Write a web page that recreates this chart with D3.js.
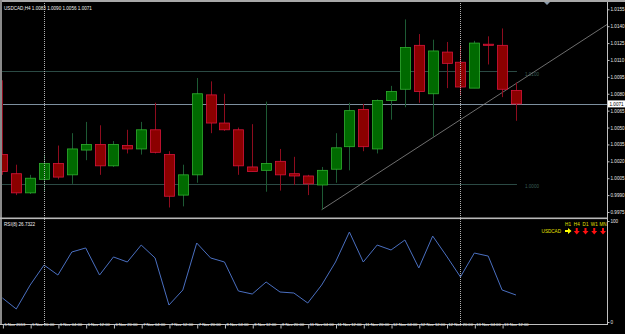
<!DOCTYPE html>
<html>
<head>
<meta charset="utf-8">
<script src="https://cdn.jsdelivr.net/npm/d3@7"></script>
<style>
  html, body { margin: 0; padding: 0; background: #000; }
  svg { display: block; }
  text { font-family: "Liberation Sans", Arial, sans-serif; }
</style>
</head>
<body>
<svg id="chart" width="625" height="334"></svg>
<script>
// ----------------------
// data
// ----------------------
const symbol = "USDCAD,H4";

const opens  = [1.0026, 1.0009, 0.9992, 1.0004, 1.0018, 1.0008, 1.0030, 1.0035, 1.0016, 1.0034,
                1.0031, 1.0048, 1.0026, 0.9990, 1.0008, 1.0079, 1.0054, 1.0048, 1.0015, 1.0012,
                1.0020, 1.0009, 1.0007, 0.9999, 1.0013, 1.0033, 1.0066, 1.0031, 1.0074, 1.0084,
                1.0123, 1.0080, 1.0117, 1.0108, 1.0085, 1.0124, 1.0123, 1.0083];
const highs  = [1.0092, 1.0017, 1.0008, 1.0026, 1.0034, 1.0045, 1.0055, 1.0052, 1.0038, 1.0048,
                1.0055, 1.0072, 1.0029, 1.0017, 1.0094, 1.0091, 1.0080, 1.0050, 1.0053, 1.0073,
                1.0031, 1.0024, 1.0008, 1.0015, 1.0045, 1.0072, 1.0071, 1.0075, 1.0087, 1.0146,
                1.0133, 1.0128, 1.0126, 1.0123, 1.0127, 1.0131, 1.0138, 1.0090];
const lows   = [1.0008, 0.9990, 0.9991, 0.9993, 1.0004, 1.0000, 1.0021, 1.0008, 1.0015, 1.0027,
                1.0026, 1.0027, 0.9979, 0.9980, 1.0001, 1.0045, 1.0047, 1.0008, 1.0011, 0.9993,
                0.9994, 0.9999, 0.9990, 0.9977, 1.0001, 1.0012, 1.0029, 1.0027, 1.0057, 1.0068,
                1.0072, 1.0042, 1.0085, 1.0079, 1.0085, 1.0106, 1.0077, 1.0056];
const closes = [1.0011, 0.9992, 1.0005, 1.0018, 1.0006, 1.0031, 1.0035, 1.0016, 1.0035, 1.0031,
                1.0048, 1.0028, 0.9989, 1.0008, 1.0080, 1.0054, 1.0048, 1.0016, 1.0011, 1.0018,
                1.0008, 1.0007, 1.0000, 1.0012, 1.0032, 1.0065, 1.0033, 1.0074, 1.0082, 1.0121,
                1.0082, 1.0118, 1.0107, 1.0086, 1.0125, 1.0123, 1.0084, 1.0071];

const rsiValues = [23.8, 12.9, 36.6, 56.4, 46.5, 69.3, 73.3, 46.5, 64.4, 59.4,
                   76.2, 63.4, 16.8, 31.7, 78.2, 63.4, 59.4, 30.7, 27.7, 39.6,
                   29.7, 28.7, 18.8, 36.6, 59.4, 89.1, 59.4, 76.2, 71.3, 81.2,
                   53.5, 85.1, 65.3, 44.6, 68.3, 65.3, 31.7, 26.7322];
const rsiPeriod = 8;

const timeTickIndex  = [0, 2, 4, 6, 8, 10, 12, 14, 16, 18, 20, 22, 24, 26, 28, 30, 32, 34, 36];
const timeTickLabels = ["5 Nov 2013", "5 Nov 20:00", "6 Nov 04:00", "6 Nov 12:00", "6 Nov 20:00",
                        "7 Nov 04:00", "7 Nov 12:00", "7 Nov 20:00", "8 Nov 04:00", "8 Nov 12:00",
                        "8 Nov 20:00", "11 Nov 04:00", "11 Nov 12:00", "11 Nov 20:00", "12 Nov 04:00",
                        "12 Nov 12:00", "12 Nov 20:00", "13 Nov 04:00", "13 Nov 12:00"];

const priceTicks = [1.0155, 1.0140, 1.0125, 1.0110, 1.0095, 1.0080, 1.0065,
                    1.0050, 1.0035, 1.0020, 1.0005, 0.9990, 0.9975];
const levelPrices = [1.0100, 1.0000];
const separatorIndex = [3, 33];              // dotted vertical lines
const trendPoints = [[23, 0.9977], [37, 1.0089]];

const tfLabels  = ["H1", "H4", "D1", "W1", "MN"];
const tfSignals = ["flat", "down", "down", "down", "down"];

const candles = opens.map((o, i) => ({ i, o, h: highs[i], l: lows[i], c: closes[i] }));
const lastBar = candles[candles.length - 1];

// ----------------------
// layout + scales
// ----------------------
const svg = d3.select("#chart");
const W = 625, H = 334;
const plotLeft = 2, axisX = 607;
const mainTop = 3, mainBottom = 217;
const rsiTop = 219, rsiBottom = 323;
const fs = 4.6;

const x = d3.scaleLinear().domain([0, 37]).range([2.4, 2.4 + 37 * 13.88]);
const y = d3.scaleLinear().domain([0.9975, 1.0155]).range([212, 9.3]);
const yRsi = d3.scaleLinear().domain([0, 100]).range([322, 221]);

svg.append("rect").attr("width", W).attr("height", H).attr("fill", "#000");

const defs = svg.append("defs");
defs.append("clipPath").attr("id", "clipMain")
  .append("rect").attr("x", plotLeft).attr("y", mainTop)
  .attr("width", axisX - plotLeft).attr("height", mainBottom - mainTop);
defs.append("clipPath").attr("id", "clipRsi")
  .append("rect").attr("x", plotLeft).attr("y", rsiTop)
  .attr("width", axisX - plotLeft).attr("height", rsiBottom - rsiTop);

const mainG = svg.append("g").attr("clip-path", "url(#clipMain)");
const rsiG = svg.append("g").attr("clip-path", "url(#clipRsi)");

// level lines 1.0100 / 1.0000
mainG.selectAll("line.level").data(levelPrices).enter().append("line")
  .attr("class", "level")
  .attr("x1", plotLeft).attr("x2", x(37) + 1)
  .attr("y1", d => Math.round(y(d)) + 0.5).attr("y2", d => Math.round(y(d)) + 0.5)
  .attr("stroke", "#2b4a44").attr("stroke-width", 1);
mainG.selectAll("text.level").data(levelPrices).enter().append("text")
  .attr("class", "level")
  .attr("x", x(37) + 9).attr("y", d => y(d) + 4.5)
  .attr("font-size", fs).attr("fill", "#3a5e55")
  .text(d => d3.format(".4f")(d));

// current price line
mainG.append("line")
  .attr("x1", plotLeft).attr("x2", axisX)
  .attr("y1", Math.round(y(lastBar.c)) + 0.5).attr("y2", Math.round(y(lastBar.c)) + 0.5)
  .attr("stroke", "#7d8f9e").attr("stroke-width", 1);

// trend line (ray)
const slope = (trendPoints[1][1] - trendPoints[0][1]) / (trendPoints[1][0] - trendPoints[0][0]);
const rayEnd = 46;
mainG.append("line")
  .attr("x1", x(trendPoints[0][0])).attr("y1", y(trendPoints[0][1]))
  .attr("x2", x(rayEnd)).attr("y2", y(trendPoints[0][1] + slope * (rayEnd - trendPoints[0][0])))
  .attr("stroke", "#8a8a8a").attr("stroke-width", 0.8);

// candles
const bull = d => d.c >= d.o;
mainG.selectAll("line.wick").data(candles).enter().append("line")
  .attr("class", "wick")
  .attr("x1", d => Math.round(x(d.i)) + 0.5).attr("x2", d => Math.round(x(d.i)) + 0.5)
  .attr("y1", d => y(d.h)).attr("y2", d => y(d.l))
  .attr("stroke", d => bull(d) ? "#1d5a34" : "#8e0c1e").attr("stroke-width", 1);

mainG.selectAll("rect.body").data(candles).enter().append("rect")
  .attr("class", "body")
  .attr("x", d => Math.round(x(d.i)) - 4.5)
  .attr("y", d => y(Math.max(d.o, d.c)))
  .attr("width", 10)
  .attr("height", d => Math.max(1, Math.abs(y(d.o) - y(d.c))))
  .attr("fill", d => bull(d) ? "#006a00" : "#8b0000")
  .attr("stroke", d => bull(d) ? "#2eb02e" : "#d8143a")
  .attr("stroke-width", 0.8);

// RSI line
rsiG.append("path")
  .datum(rsiValues)
  .attr("fill", "none")
  .attr("stroke", "#4a6fc0")
  .attr("stroke-width", 1)
  .attr("d", d3.line().x((d, i) => x(i)).y(d => yRsi(d)));

// dotted separators through both panels
svg.selectAll("line.sep").data(separatorIndex).enter().append("line")
  .attr("class", "sep")
  .attr("x1", d => Math.round(x(d)) + 0.5).attr("x2", d => Math.round(x(d)) + 0.5)
  .attr("y1", mainTop).attr("y2", rsiBottom + 1)
  .attr("stroke", "#b0b0b0").attr("stroke-width", 1).attr("stroke-dasharray", "1,1");

// ----------------------
// frames
// ----------------------
svg.append("rect").attr("x", 0).attr("y", 0).attr("width", W).attr("height", 2).attr("fill", "#a8a8a8");
svg.append("rect").attr("x", 0).attr("y", 0).attr("width", 2).attr("height", rsiBottom + 1).attr("fill", "#8a8a8a");
svg.append("rect").attr("x", 0).attr("y", mainBottom + 0.5).attr("width", axisX + 1).attr("height", 1.6).attr("fill", "#b8b8b8");
svg.append("line").attr("x1", 0).attr("x2", axisX + 1).attr("y1", rsiBottom + 1.5).attr("y2", rsiBottom + 1.5)
  .attr("stroke", "#c0c0c0");

// shift marker
svg.append("path")
  .attr("d", "M544,2 L550,2 L547,5 Z")
  .attr("fill", "#8a9aaa");

// ----------------------
// axes
// ----------------------
const yAxisG = svg.append("g").attr("transform", `translate(${axisX + 0.5},0)`)
  .call(d3.axisRight(y).tickValues(priceTicks).tickFormat(d3.format(".4f")).tickSize(2).tickPadding(1));
yAxisG.select(".domain").attr("d", `M0,2V${rsiBottom + 1}`).attr("stroke", "#c0c0c0");
yAxisG.selectAll(".tick line").attr("stroke", "#c0c0c0");
yAxisG.selectAll(".tick text").attr("fill", "#e8e8e8").attr("font-size", fs)
  .attr("font-family", "Liberation Sans, Arial, sans-serif");

// current price tag
const tagY = y(lastBar.c);
svg.append("rect").attr("x", axisX + 1).attr("y", tagY - 3.5).attr("width", 18).attr("height", 7).attr("fill", "#fff");
svg.append("text").attr("x", axisX + 2.5).attr("y", tagY + 1.7)
  .attr("font-size", fs).attr("fill", "#000").text(d3.format(".4f")(lastBar.c));

const rAxisG = svg.append("g").attr("transform", `translate(${axisX + 0.5},0)`)
  .call(d3.axisRight(yRsi).tickValues([100, 0]).tickSize(2).tickPadding(1));
rAxisG.select(".domain").remove();
rAxisG.selectAll(".tick line").attr("stroke", "#c0c0c0");
rAxisG.selectAll(".tick text").attr("fill", "#e8e8e8").attr("font-size", fs)
  .attr("font-family", "Liberation Sans, Arial, sans-serif");

const xAxisG = svg.append("g").attr("transform", `translate(0,${rsiBottom + 1.5})`)
  .call(d3.axisBottom(x).tickValues(timeTickIndex)
    .tickFormat((d, k) => timeTickLabels[k]).tickSize(4).tickPadding(0));
xAxisG.select(".domain").remove();
xAxisG.selectAll(".tick line").attr("stroke", "#c0c0c0")
  .attr("transform", "translate(0.5,0)");
xAxisG.selectAll(".tick text").attr("fill", "#f0f0f0").attr("font-size", 4.1)
  .attr("font-family", "Liberation Sans, Arial, sans-serif")
  .attr("text-anchor", "start").attr("dx", 1.5).attr("dy", 0).attr("y", 1.5);

// ----------------------
// labels
// ----------------------
const f4 = d3.format(".4f");
svg.append("text").attr("x", 4).attr("y", 9.5)
  .attr("font-size", fs).attr("fill", "#f0f0f0")
  .text(`${symbol} ${f4(lastBar.o)} ${f4(lastBar.h)} ${f4(lastBar.l)} ${f4(lastBar.c)}`);

svg.append("text").attr("x", 4).attr("y", 225.5)
  .attr("font-size", fs).attr("fill", "#f0f0f0")
  .text(`RSI(${rsiPeriod}) ${rsiValues[rsiValues.length - 1].toFixed(4)}`);

// multi-timeframe signal box
const tfX = d3.scalePoint().domain(tfLabels).range([568, 603]);
svg.selectAll("text.tf").data(tfLabels).enter().append("text")
  .attr("class", "tf")
  .attr("x", d => tfX(d)).attr("y", 225.5)
  .attr("text-anchor", "middle").attr("font-size", fs).attr("fill", "#e8e000")
  .text(d => d);
svg.append("text").attr("x", 561).attr("y", 233).attr("text-anchor", "end")
  .attr("font-size", fs).attr("fill", "#e8e000").text("USDCAD");

const downArrow = "M-1,-3 H1 V0 H3 L0,3.5 L-3,0 H-1 Z";
const rightArrow = "M-3,-1 H0 V-3 L3.5,0 L0,3 V1 H-3 Z";
svg.selectAll("path.sig").data(tfSignals).enter().append("path")
  .attr("class", "sig")
  .attr("transform", (d, k) => `translate(${tfX(tfLabels[k])},231)`)
  .attr("d", d => d === "down" ? downArrow : rightArrow)
  .attr("fill", d => d === "down" ? "#ff1010" : "#ffff00");
</script>
</body>
</html>
